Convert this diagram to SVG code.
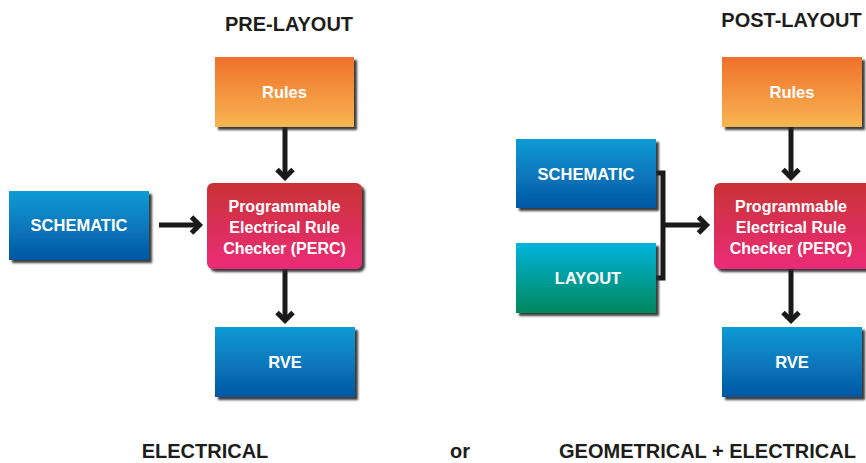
<svg xmlns="http://www.w3.org/2000/svg" width="866" height="463" viewBox="0 0 866 463">
  <defs>
    <linearGradient id="gOrange" x1="0" y1="0" x2="0" y2="1">
      <stop offset="0" stop-color="#f0702a"/>
      <stop offset="1" stop-color="#f7b652"/>
    </linearGradient>
    <linearGradient id="gBlue" x1="0" y1="0" x2="0" y2="1">
      <stop offset="0" stop-color="#0a9bd6"/>
      <stop offset="1" stop-color="#0557a3"/>
    </linearGradient>
    <linearGradient id="gRed" x1="0" y1="0" x2="0" y2="1">
      <stop offset="0" stop-color="#c93234"/>
      <stop offset="1" stop-color="#eb2c78"/>
    </linearGradient>
    <linearGradient id="gTeal" x1="0" y1="0" x2="0" y2="1">
      <stop offset="0" stop-color="#00b4dc"/>
      <stop offset="1" stop-color="#00885c"/>
    </linearGradient>
    <filter id="shadow" x="-10%" y="-10%" width="130%" height="130%">
      <feDropShadow dx="3" dy="3" stdDeviation="0.8" flood-color="#2a2a2a" flood-opacity="0.9"/>
    </filter>
    <marker id="ah" markerUnits="userSpaceOnUse" markerWidth="30" markerHeight="30" viewBox="-15 -15 30 30" refX="0" refY="0" orient="auto" overflow="visible">
      <path d="M-8,-8 L0,0 L-8,8" fill="none" stroke="#1a1a1a" stroke-width="5" stroke-miterlimit="10"/>
    </marker>
  </defs>
  <style>
    .title { font-family: "Liberation Sans", Arial, sans-serif; font-weight: bold; font-size: 20px; fill: #1d1d1b; text-anchor: middle; }
    .lbl { font-family: "Liberation Sans", Arial, sans-serif; font-weight: bold; font-size: 16.5px; fill: #ffffff; text-anchor: middle; }
    .perc { font-family: "Liberation Sans", Arial, sans-serif; font-weight: bold; font-size: 16px; fill: #ffffff; text-anchor: middle; }
    .box { filter: url(#shadow); }
    .conn { fill: none; stroke: #1a1a1a; stroke-width: 5; }
  </style>

  <rect width="866" height="463" fill="#ffffff"/>

  <!-- Titles -->
  <text class="title" x="289" y="31">PRE-LAYOUT</text>
  <text class="title" x="791.5" y="27">POST-LAYOUT</text>
  <text class="title" x="205" y="458">ELECTRICAL</text>
  <text class="title" x="460" y="458">or</text>
  <text class="title" x="707.5" y="458">GEOMETRICAL + ELECTRICAL</text>

  <!-- Connectors -->
  <g id="connectors">
    <line class="conn" x1="285" y1="127" x2="285" y2="177.5" marker-end="url(#ah)"/>
    <line class="conn" x1="159" y1="225" x2="199.5" y2="225" marker-end="url(#ah)"/>
    <line class="conn" x1="285" y1="269" x2="285" y2="320.5" marker-end="url(#ah)"/>
    <line class="conn" x1="791" y1="127" x2="791" y2="177.5" marker-end="url(#ah)"/>
    <polyline class="conn" points="656,173 663,173 663,278 656,278"/>
    <line class="conn" x1="663" y1="225" x2="706.5" y2="225" marker-end="url(#ah)"/>
    <line class="conn" x1="791" y1="269" x2="791" y2="320.5" marker-end="url(#ah)"/>
  </g>

  <!-- Pre-layout nodes -->
  <g id="pre-rules">
    <rect class="box" x="215" y="57" width="139" height="70" fill="url(#gOrange)"/>
    <text class="lbl" x="284.5" y="98">Rules</text>
  </g>
  <g id="pre-schematic">
    <rect class="box" x="9" y="191" width="140" height="69" fill="url(#gBlue)"/>
    <text class="lbl" x="79" y="231">SCHEMATIC</text>
  </g>
  <g id="pre-perc">
    <rect class="box" x="207" y="183" width="155" height="86" rx="6" fill="url(#gRed)"/>
    <text class="perc" x="284.5" y="212">Programmable</text>
    <text class="perc" x="284.5" y="233">Electrical Rule</text>
    <text class="perc" x="284.5" y="253.5">Checker (PERC)</text>
  </g>
  <g id="pre-rve">
    <rect class="box" x="215" y="327" width="140" height="70" fill="url(#gBlue)"/>
    <text class="lbl" x="285" y="368">RVE</text>
  </g>

  <!-- Post-layout nodes -->
  <g id="post-rules">
    <rect class="box" x="722" y="57" width="140" height="70" fill="url(#gOrange)"/>
    <text class="lbl" x="792" y="98">Rules</text>
  </g>
  <g id="post-schematic">
    <rect class="box" x="516" y="139" width="140" height="69" fill="url(#gBlue)"/>
    <text class="lbl" x="586" y="179.5">SCHEMATIC</text>
  </g>
  <g id="post-layout">
    <rect class="box" x="516" y="243" width="140" height="70" fill="url(#gTeal)"/>
    <text class="lbl" x="588" y="284">LAYOUT</text>
  </g>
  <g id="post-perc">
    <rect class="box" x="714" y="183" width="158" height="86" rx="6" fill="url(#gRed)"/>
    <text class="perc" x="791" y="212">Programmable</text>
    <text class="perc" x="791" y="233">Electrical Rule</text>
    <text class="perc" x="791" y="253.5">Checker (PERC)</text>
  </g>
  <g id="post-rve">
    <rect class="box" x="722" y="327" width="140" height="70" fill="url(#gBlue)"/>
    <text class="lbl" x="792" y="368">RVE</text>
  </g>
</svg>
